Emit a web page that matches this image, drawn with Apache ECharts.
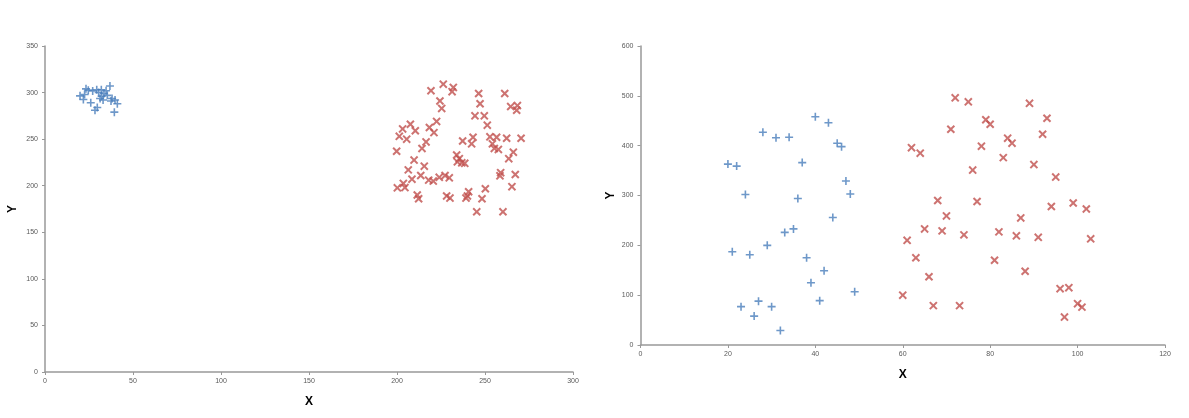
<!DOCTYPE html>
<html>
<head>
<meta charset="utf-8">
<script src="https://cdn.jsdelivr.net/npm/echarts@6/dist/echarts.min.js"></script>
<style>
html,body{margin:0;padding:0;background:#fff;}
#c{width:1189px;height:418px;}
</style>
</head>
<body>
<div id="c"></div>
<script>
// ---- Data ----
const leftBlue = [
  [19.9,296.5],[21.8,292.6],[23.3,304],[24.6,302.6],[27.1,301.8],[29.4,303],
  [26,289],[28.4,281],[29.7,284],[31.3,293.6],[32.2,296],[33.5,299],
  [34.7,302],[35.4,297],[36.9,307],[38.1,293.6],[39.4,279],[39.8,292],
  [41.1,288],[30.5,300],[33,292],[37.5,291],[22.5,298],[32,303]
];
const leftRed = [
  [219.3,302],[226.3,309],[232,305.5],[231.3,301],[246.4,299],[261.2,299],
  [224.4,291],[247.2,288],[225.4,283],[264.6,285],[268.4,286],[268,281],
  [244.3,275],[249.6,275],[251.3,265],[222.5,269],[207.6,266],[203.2,261],
  [210.4,259],[218.4,262.5],[221,257],[201.3,253],[205.5,250],[216.5,247],
  [214.2,240],[199.8,237],[237.3,248],[243.2,252],[242.4,245],[252.8,252.5],
  [256.6,252],[254.2,245],[255.3,240],[257.6,239],[262.3,251],[270.5,251],
  [266.1,236],[263.5,229],[233.9,233],[235.4,229],[234.3,225.6],[236.8,224.6],
  [238.5,224],[209.7,227.5],[215.5,221],[206.4,217],[258.9,214],[258.5,210.6],
  [267.2,212],[213.5,211],[208.5,207],[218,206],[220.6,205],[224,209],
  [227.3,211],[229.7,208.5],[203.6,202.5],[200.2,197.7],[204.5,198],[265.3,199],
  [250.2,196.7],[211.5,190],[212.3,186],[228.2,189],[230.1,186.7],[240.7,193.5],
  [240,189],[239.2,186.7],[248.3,186],[245.3,172],[260.2,172]
];
const rightBlue = [
  [40,458],[43,446],[28,427],[31,416],[34,417],[45,405],[46,398],[20,363],
  [22,359],[37,366],[47,329],[48,303],[24,302],[36,294],[44,256],[35,233],
  [33,226],[29,200],[21,187],[25,181],[38,175],[42,149],[39,125],[49,107],
  [41,89],[27,88],[23,77],[30,77],[26,58],[32,29]
];
const rightRed = [
  [72,496],[75,488],[89,485],[93,455],[79,452],[80,443],[71,433],[92,423],
  [84,415],[85,405],[62,396],[64,385],[78,399],[83,376],[90,362],[76,351],
  [95,337],[68,290],[77,288],[94,278],[99,285],[102,273],[70,259],[87,255],
  [65,233],[69,229],[74,221],[82,227],[86,219],[91,216],[103,213],[61,210],
  [63,175],[81,170],[88,148],[66,137],[96,113],[98,115],[60,100],[67,79],
  [73,79],[100,83],[101,76],[97,56]
];
const leftXTicks = {min:0, max:300, interval:50};
const leftYTicks = {min:0, max:350, interval:50};
const rightXTicks = {min:0, max:120, interval:20};
const rightYTicks = {min:0, max:600, interval:100};

// ---- Styles ----
const PLUS = 'path://M4,0H6V4H10V6H6V10H4V6H0V4H4Z';
const BLUE = '#4a7ebb';
const RED = '#c0504d';
const labelStyle = {fontFamily:'Liberation Sans, Arial, sans-serif', fontSize:7, color:'#595959'};
const nameStyle = {fontFamily:'Liberation Sans, Arial, sans-serif', fontSize:12, fontWeight:'bold', color:'#000'};
const axisLine = {show:true, lineStyle:{color:'#999999', width:1.5}};
const axisTick = {show:true, length:3, lineStyle:{color:'#999999', width:1}};

function xAx(gi, t, gap) {
  return {type:'value', gridIndex:gi, min:t.min, max:t.max, interval:t.interval,
    name:'X', nameLocation:'middle', nameGap:gap, nameTextStyle:nameStyle,
    axisLine:axisLine, axisTick:axisTick, splitLine:{show:false},
    axisLabel:Object.assign({margin:6}, labelStyle)};
}
function yAx(gi, t, gap) {
  return {type:'value', gridIndex:gi, min:t.min, max:t.max, interval:t.interval,
    name:'Y', nameLocation:'middle', nameGap:gap, nameRotate:90, nameTextStyle:nameStyle,
    axisLine:axisLine, axisTick:axisTick, splitLine:{show:false},
    axisLabel:Object.assign({margin:7}, labelStyle)};
}
function ser(i, data, color, rot) {
  return {type:'scatter', xAxisIndex:i, yAxisIndex:i, data:data,
    symbol:PLUS, symbolSize:rot ? 10 : 8, symbolRotate:rot ? 45 : 0,
    itemStyle:{color:color}, animation:false};
}

const chart = echarts.init(document.getElementById('c'), null, {renderer:'canvas'});
chart.setOption({
  backgroundColor:'#ffffff',
  animation:false,
  grid:[
    {left:45, right:616, top:46, bottom:46},
    {left:640.5, right:24, top:46, bottom:73}
  ],
  xAxis:[xAx(0, leftXTicks, 24), xAx(1, rightXTicks, 24)],
  yAxis:[yAx(0, leftYTicks, 26), yAx(1, rightYTicks, 24)],
  series:[
    ser(0, leftBlue, BLUE, false),
    ser(0, leftRed, RED, true),
    ser(1, rightBlue, BLUE, false),
    ser(1, rightRed, RED, true)
  ]
});
</script>
</body>
</html>
